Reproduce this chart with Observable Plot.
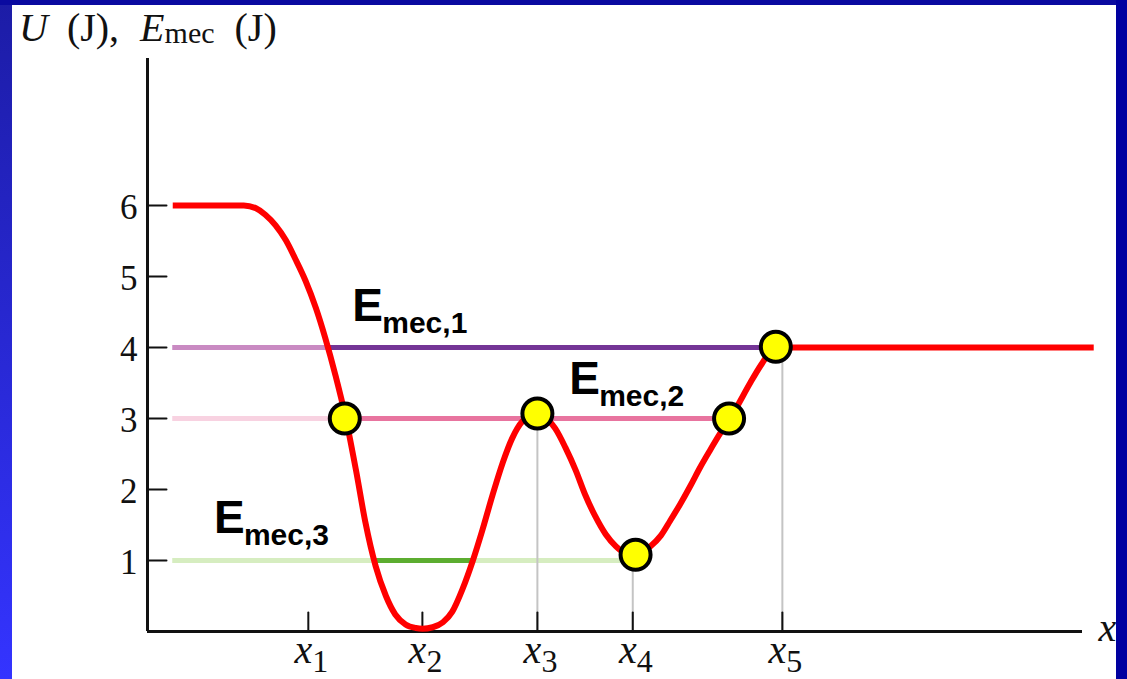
<!DOCTYPE html>
<html>
<head>
<meta charset="utf-8">
<script src="https://cdn.jsdelivr.net/npm/d3@7"></script>
<script src="https://cdn.jsdelivr.net/npm/@observablehq/plot@0.6"></script>
<style>
  html, body { margin: 0; padding: 0; background: #fff; }
  #wrap { position: relative; width: 1127px; height: 679px; overflow: hidden; background: #fff; }
  #chart { position: absolute; left: 0; top: 0; }
  #ytitle {
    position: absolute; left: 19px; top: 8px; line-height: 1;
    font-family: "Liberation Serif", "DejaVu Serif", serif; font-size: 40px; color: #111;
    white-space: nowrap; z-index: 2;
  }
  #ytitle .sub { font-size: 30px; vertical-align: -2px; }
  .edge { position: absolute; z-index: 3; }
  #edgeTop { left: 0; top: 0; width: 1127px; height: 5px; background: #0a0aa0; }
  #edgeLeft { left: 0; top: 0; width: 12px; height: 679px; background: linear-gradient(#1c1ca6, #3434ff); }
  #edgeRight { left: 1116px; top: 0; width: 11px; height: 679px; background: #0000a0; }
</style>
</head>
<body>
<div id="wrap">
  <div id="chart"></div>
  <div id="ytitle"><i>U</i><span style="margin-left:19px">(J),</span><i style="margin-left:21px">E</i><span class="sub">mec</span><span style="margin-left:20px">(J)</span></div>
  <div class="edge" id="edgeLeft"></div>
  <div class="edge" id="edgeTop"></div>
  <div class="edge" id="edgeRight"></div>
</div>
<script>
// Potential energy curve U(x), in joules, sampled along the position axis
const curveX = [0.27, 1.03, 1.16, 1.26, 1.37, 1.48, 1.58, 1.69, 1.80, 1.90, 2.01, 2.12, 2.23, 2.33, 2.44, 2.55, 2.65, 2.76, 2.87, 2.94,
                3.05, 3.16, 3.26, 3.37, 3.48, 3.58, 3.69, 3.80, 3.90, 4.01, 4.10, 4.17,
                4.26, 4.36, 4.47, 4.58, 4.68, 4.79, 4.90, 5.01, 5.11, 5.19,
                5.27, 5.38, 5.49, 5.59, 5.70, 5.81, 5.91, 6.02, 6.13, 6.24, 6.34, 6.45, 6.56, 6.66, 6.77, 6.88, 10.12];
const curveU = [6.00, 6.00, 5.96, 5.87, 5.72, 5.51, 5.25, 4.94, 4.56, 4.14, 3.61, 3.01, 2.27, 1.54, 0.92, 0.50, 0.24, 0.10, 0.05, 0.04,
                0.06, 0.13, 0.28, 0.60, 1.00, 1.42, 1.92, 2.38, 2.72, 2.96, 3.04, 3.06,
                3.01, 2.86, 2.59, 2.27, 1.93, 1.62, 1.37, 1.20, 1.10, 1.07,
                1.10, 1.20, 1.35, 1.56, 1.80, 2.06, 2.31, 2.56, 2.80, 3.01, 3.25, 3.51, 3.75, 3.93, 3.99, 4.00, 4.00];

// Axis ticks
const yTicks = [1, 2, 3, 4, 5, 6];
const xTicks = [1.72, 2.94, 4.17, 5.19, 6.79];
const xTickNames = ["1", "2", "3", "4", "5"];

// Mechanical energy levels, split where the curve crosses them
const segLevel  = [4, 4, 3, 3, 1, 1, 1];
const segFrom   = [0.27, 1.94, 0.27, 2.11, 0.27, 2.42, 3.48];
const segTo     = [1.94, 6.72, 2.11, 6.22, 2.42, 3.48, 5.20];
const segInside = [false, true, false, true, false, true, false];

// Level labels E_mec,n
const labelName = ["1", "2", "3"];
const labelX = [2.19, 4.51, 0.71];
const labelU = [4.38, 3.35, 1.39];

// Turning points and extrema
const pointX = [2.11, 4.17, 5.22, 6.22, 6.72];
const pointU = [3.00, 3.07, 1.08, 3.00, 4.01];

// Drop lines from x3, x4, x5 down to the axis
const dropX = [4.17, 5.19, 6.79];
const dropTop = [3, 1, 4];

const curve = curveX.map((x, i) => ({x, u: curveU[i]}));
const segments = segLevel.map((u, i) => ({u, x1: segFrom[i], x2: segTo[i], inside: segInside[i]}));
const labels = labelName.map((n, i) => ({n, x: labelX[i], u: labelU[i]}));
const points = pointX.map((x, i) => ({x, u: pointU[i]}));
const drops = dropX.map((x, i) => ({x, top: dropTop[i]}));
const xTickData = xTicks.map((x, i) => ({x, name: xTickNames[i]}));

const levelColors = {
  4: {outside: "#c98ac2", inside: "#743596"},
  3: {outside: "#f8d2e1", inside: "#e8749f"},
  1: {outside: "#d6edc0", inside: "#5cad30"}
};
const segColor = d => levelColors[d.u][d.inside ? "inside" : "outside"];

const tickShape = {draw(context, l) { context.moveTo(0, 0); context.lineTo(0, -l); }};
const serif = "Liberation Serif, DejaVu Serif, serif";
const sans = "Liberation Sans, Arial, sans-serif";
const ink = "#111";

const chart = Plot.plot({
  width: 1127,
  height: 679,
  marginLeft: 147,
  marginRight: 45,
  marginTop: 58,
  marginBottom: 48,
  x: {domain: [0, 10], axis: null},
  y: {domain: [0, 8.07], axis: null},
  style: {background: "transparent", overflow: "visible"},
  marks: [
    // energy levels
    Plot.ruleY(segments, {y: "u", x1: "x1", x2: "x2", stroke: segColor, strokeWidth: 5}),
    // drop lines
    Plot.ruleX(drops, {x: "x", y1: 0, y2: "top", stroke: "#c4c4c4", strokeWidth: 2}),
    // axes
    Plot.ruleX([0], {y1: 0, y2: 8.07, stroke: ink, strokeWidth: 3}),
    Plot.ruleY([0], {x1: 0, x2: 10, stroke: ink, strokeWidth: 3}),
    Plot.vector(yTicks, {x: 0, y: d => d, rotate: 90, length: 19, anchor: "start", shape: tickShape, stroke: ink, strokeWidth: 2}),
    Plot.vector(xTickData, {x: "x", y: 0, rotate: 0, length: 19, anchor: "start", shape: tickShape, stroke: ink, strokeWidth: 2}),
    Plot.text(yTicks, {x: 0, y: d => d, text: d => String(d), dx: -10, dy: 2, textAnchor: "end", fontSize: 35, fontFamily: serif, fill: ink}),
    Plot.text(xTickData, {x: "x", y: 0, text: () => "x", dx: -5, dy: 31, lineAnchor: "bottom", fontStyle: "italic", fontSize: 40, fontFamily: serif, fill: ink}),
    Plot.text(xTickData, {x: "x", y: 0, text: "name", dx: 12, dy: 40, lineAnchor: "bottom", fontSize: 32, fontFamily: serif, fill: ink}),
    Plot.text([10], {x: d => d, y: 0, text: () => "x", dx: 16, dy: 9, textAnchor: "start", lineAnchor: "bottom", fontStyle: "italic", fontSize: 40, fontFamily: serif, fill: ink}),
    // potential energy curve
    Plot.line(curve, {x: "x", y: "u", curve: "monotone-x", stroke: "#ff0000", strokeWidth: 6, strokeLinecap: "butt"}),
    // level labels
    Plot.text(labels, {x: "x", y: "u", text: () => "E", textAnchor: "start", lineAnchor: "bottom", fontSize: 46, fontWeight: "bold", fontFamily: sans, fill: "#000"}),
    Plot.text(labels, {x: "x", y: "u", text: d => "mec," + d.n, dx: 30, dy: 12, textAnchor: "start", lineAnchor: "bottom", fontSize: 30, fontWeight: "bold", fontFamily: sans, fill: "#000"}),
    // turning points
    Plot.dot(points, {x: "x", y: "u", r: 15, fill: "#ffff00", stroke: "#000", strokeWidth: 4})
  ]
});
document.getElementById("chart").appendChild(chart);
</script>
</body>
</html>
